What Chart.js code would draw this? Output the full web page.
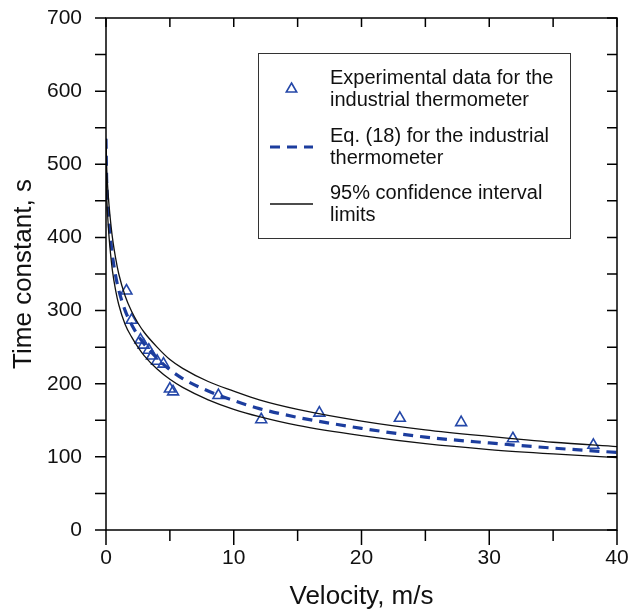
<!DOCTYPE html>
<html>
<head>
<meta charset="utf-8">
<script src="https://cdn.jsdelivr.net/npm/chart.js@4/dist/chart.umd.min.js"></script>
<style>
    html, body { margin: 0; padding: 0; background: #fff; }
    #wrap { width: 633px; height: 612px; }
</style>
</head>
<body>
<div id="wrap"><canvas id="chart" width="633" height="612"></canvas></div>
<script>
// experimental points (velocity m/s, time constant s)
const expVelocity = [1.6, 2.0, 2.7, 2.95, 3.35, 3.6, 4.0, 4.5, 5.0, 5.25, 8.8, 12.15, 16.7, 23.0, 27.8, 31.85, 38.15];
const expTau = [327, 287, 260, 253, 246, 238, 231, 227, 193, 189, 184, 151, 160, 153, 147, 125, 116];

// Eq. (18) curve and 95% limits
const curveVelocity = [0, 0.05, 0.1, 0.2, 0.3, 0.5, 0.75, 1, 1.5, 2, 2.5, 3, 4, 5, 6, 8, 10, 12, 15, 20, 25, 30, 35, 40];
const fitTau = [535, 480, 458, 430, 408, 376, 348, 328, 300, 281, 266, 254, 235, 219, 207, 190, 177, 166, 154, 139, 127, 119, 112, 106];
const upperTau = [535, 498, 478, 452, 432, 400, 372, 350, 320, 299, 283, 270, 250, 233, 221, 203, 190, 178, 165, 149, 137, 128, 120, 114];
const lowerTau = [535, 462, 440, 410, 388, 355, 328, 308, 281, 264, 250, 238, 220, 206, 195, 178, 165, 155, 143, 129, 118, 110, 104, 99];

// axis ranges and tick steps
const xMin = 0, xMax = 40, xStep = 5, xLabelEvery = 10;
const yMin = 0, yMax = 700, yStep = 50, yLabelEvery = 100;

const FONT = "'Liberation Sans', Arial, sans-serif";
const BLUE_MARK = '#2447a8';
const BLUE_LINE = '#1c3d9e';

function toPoints(xs, ys) {
    return xs.map((x, i) => ({ x: x, y: ys[i] }));
}

function drawTriangle(ctx, x, y, r) {
    ctx.beginPath();
    ctx.moveTo(x, y - r);
    ctx.lineTo(x + r * Math.sqrt(3) / 2, y + r / 2);
    ctx.lineTo(x - r * Math.sqrt(3) / 2, y + r / 2);
    ctx.closePath();
    ctx.stroke();
}

// frame, tick marks on all four sides (outward left/bottom, inward top/right)
const framePlugin = {
    id: 'frame',
    afterDatasetsDraw(chart) {
        const ctx = chart.ctx;
        const a = chart.chartArea;
        const xs = chart.scales.x, ys = chart.scales.y;
        ctx.save();
        ctx.strokeStyle = '#000';
        ctx.lineWidth = 1.5;
        ctx.strokeRect(a.left, a.top, a.right - a.left, a.bottom - a.top);
        ctx.beginPath();
        xs.ticks.forEach(t => {
            const px = xs.getPixelForValue(t.value);
            const major = t.value % xLabelEvery === 0;
            ctx.moveTo(px, a.bottom);
            ctx.lineTo(px, a.bottom + (major ? 15 : 11));
            ctx.moveTo(px, a.top);
            ctx.lineTo(px, a.top + 9);
        });
        ys.ticks.forEach(t => {
            const py = ys.getPixelForValue(t.value);
            ctx.moveTo(a.left - 11, py);
            ctx.lineTo(a.left, py);
            ctx.moveTo(a.right - 10, py);
            ctx.lineTo(a.right, py);
        });
        ctx.stroke();
        ctx.restore();
    }
};

// boxed legend with two-line entries
const legendPlugin = {
    id: 'boxLegend',
    afterDraw(chart) {
        const ctx = chart.ctx;
        ctx.save();
        ctx.fillStyle = '#fff';
        ctx.fillRect(258, 53, 312, 185);
        ctx.strokeStyle = '#333';
        ctx.lineWidth = 1;
        ctx.strokeRect(258.5, 53.5, 312, 185);

        ctx.strokeStyle = BLUE_MARK;
        ctx.lineWidth = 1.6;
        drawTriangle(ctx, 291.5, 89, 6);

        ctx.strokeStyle = BLUE_LINE;
        ctx.lineWidth = 3.2;
        ctx.setLineDash([10, 7]);
        ctx.beginPath();
        ctx.moveTo(270, 147);
        ctx.lineTo(313, 147);
        ctx.stroke();
        ctx.setLineDash([]);

        ctx.strokeStyle = '#111';
        ctx.lineWidth = 1.3;
        ctx.beginPath();
        ctx.moveTo(270, 204);
        ctx.lineTo(313, 204);
        ctx.stroke();

        ctx.fillStyle = '#111';
        ctx.font = '20px ' + FONT;
        ctx.textBaseline = 'middle';
        ctx.textAlign = 'left';
        const lines = [
            ['Experimental data for the', 78], ['industrial thermometer', 100],
            ['Eq. (18) for the industrial', 136], ['thermometer', 158],
            ['95% confidence interval', 193], ['limits', 215]
        ];
        lines.forEach(l => ctx.fillText(l[0], 330, l[1]));
        ctx.restore();
    }
};

const lineStyle = {
    showLine: true,
    pointRadius: 0,
    pointHoverRadius: 0,
    cubicInterpolationMode: 'monotone',
    fill: false
};

new Chart(document.getElementById('chart'), {
    type: 'scatter',
    data: {
        datasets: [
            Object.assign({
                label: '95% confidence interval limits',
                data: toPoints(curveVelocity, upperTau),
                borderColor: '#111',
                borderWidth: 1.3
            }, lineStyle),
            Object.assign({
                label: 'lower limit',
                data: toPoints(curveVelocity, lowerTau),
                borderColor: '#111',
                borderWidth: 1.3
            }, lineStyle),
            Object.assign({
                label: 'Eq. (18) for the industrial thermometer',
                data: toPoints(curveVelocity, fitTau),
                borderColor: BLUE_LINE,
                borderWidth: 3.2,
                borderDash: [10, 7]
            }, lineStyle),
            {
                label: 'Experimental data for the industrial thermometer',
                data: toPoints(expVelocity, expTau),
                pointStyle: 'triangle',
                pointRadius: 6.3,
                pointBorderWidth: 1.6,
                pointBorderColor: BLUE_MARK,
                pointBackgroundColor: 'rgba(0,0,0,0)',
                showLine: false
            }
        ]
    },
    options: {
        responsive: false,
        animation: false,
        devicePixelRatio: 1,
        layout: { padding: { top: 18, right: 16, left: 0, bottom: 0 } },
        plugins: {
            legend: { display: false },
            tooltip: { enabled: false }
        },
        scales: {
            x: {
                type: 'linear',
                min: xMin,
                max: xMax,
                grid: { display: false, drawTicks: false },
                border: { display: false },
                ticks: {
                    stepSize: xStep,
                    autoSkip: false,
                    maxRotation: 0,
                    padding: 16,
                    color: '#111',
                    font: { family: FONT, size: 21 },
                    callback: v => (v % xLabelEvery === 0 ? v : '')
                },
                title: {
                    display: true,
                    text: 'Velocity, m/s',
                    color: '#111',
                    font: { family: FONT, size: 26 },
                    padding: { top: 0, bottom: 0 }
                },
                afterFit(scale) {
                    scale.height = 82;
                    scale.paddingLeft = 0;
                    scale.paddingRight = 0;
                }
            },
            y: {
                type: 'linear',
                min: yMin,
                max: yMax,
                grid: { display: false, drawTicks: false },
                border: { display: false },
                ticks: {
                    stepSize: yStep,
                    autoSkip: false,
                    padding: 24,
                    color: '#111',
                    font: { family: FONT, size: 21 },
                    callback: v => (v % yLabelEvery === 0 ? v : '')
                },
                title: {
                    display: true,
                    text: 'Time constant, s',
                    color: '#111',
                    font: { family: FONT, size: 26 },
                    padding: { top: 8, bottom: 0 }
                },
                afterFit(scale) {
                    scale.width = 106;
                    scale.paddingTop = 0;
                    scale.paddingBottom = 0;
                }
            }
        }
    },
    plugins: [framePlugin, legendPlugin]
});
</script>
</body>
</html>
